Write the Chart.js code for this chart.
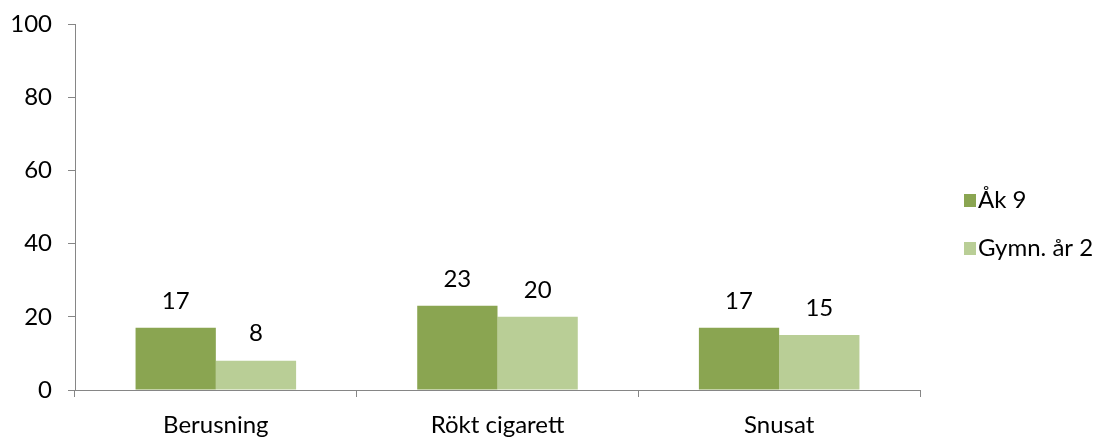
<!DOCTYPE html>
<html><head><meta charset="utf-8">
<script src="https://cdn.jsdelivr.net/npm/chart.js@4"></script>
<style>html,body{margin:0;padding:0;background:#fff}#wrap{width:1106px;height:437px}</style>
</head><body><div id="wrap"><canvas id="c" width="1106" height="437"></canvas></div>
<script>
const categories = ["Berusning", "Rökt cigarett", "Snusat"];
const seriesNames = ["Åk 9", "Gymn. år 2"];
const ak9 = [17, 23, 17];
const gymn2 = [8, 20, 15];
const yTicks = [0, 20, 40, 60, 80, 100];
const colors = ["#8AA551", "#B9CE96"];
const FONT = "Lato, 'Open Sans', sans-serif";
const FS = 24;

const labelPlugin = {
  id: 'vals',
  afterDatasetsDraw(chart) {
    const ctx = chart.ctx;
    ctx.save();
    ctx.font = FS + "px " + FONT;
    ctx.fillStyle = "#000";
    ctx.textAlign = "center";
    ctx.textBaseline = "middle";
    chart.data.datasets.forEach((ds, i) => {
      chart.getDatasetMeta(i).data.forEach((bar, j) => {
        ctx.fillText(String(ds.data[j]), bar.x, bar.y - 27);
      });
    });
    ctx.restore();
  }
};
const legendPlugin = {
  id: 'leg',
  afterDraw(chart) {
    const ctx = chart.ctx;
    ctx.save();
    ctx.font = FS + "px " + FONT;
    ctx.textBaseline = "middle";
    ctx.textAlign = "left";
    chart.data.datasets.forEach((ds, i) => {
      const cy = 200 + i * 48;
      ctx.fillStyle = ds.backgroundColor;
      ctx.fillRect(964, cy - 6, 12, 13);
      ctx.fillStyle = "#000";
      ctx.fillText(ds.label, 978, cy);
    });
    ctx.restore();
  }
};

new Chart(document.getElementById('c'), {
  type: 'bar',
  data: {
    labels: categories,
    datasets: [
      { label: seriesNames[0], data: ak9, backgroundColor: colors[0] },
      { label: seriesNames[1], data: gymn2, backgroundColor: colors[1] }
    ]
  },
  options: {
    responsive: false,
    animation: false,
    layout: { padding: { top: 24, right: 186, left: 0, bottom: 0 } },
    datasets: { bar: { categoryPercentage: 0.57, barPercentage: 1.0 } },
    plugins: { legend: { display: false }, tooltip: { enabled: false } },
    scales: {
      x: {
        grid: { display: true, drawOnChartArea: false, offset: true, tickLength: 7, color: "#868686" },
        border: { color: "#868686", width: 1 },
        ticks: { font: { size: FS, family: FONT }, color: "#000", padding: 14 },
        afterFit(s) { s.height = 47; s.paddingLeft = 0; s.paddingRight = 0; }
      },
      y: {
        min: 0, max: 100,
        afterBuildTicks(s) { s.ticks = yTicks.map(v => ({ value: v })); },
        grid: { display: true, drawOnChartArea: false, tickLength: 7, color: "#868686" },
        border: { color: "#868686", width: 1 },
        ticks: { font: { size: FS, family: FONT }, color: "#000", padding: 16 },
        afterFit(s) { s.width = 75; s.paddingTop = 0; s.paddingBottom = 0; }
      }
    }
  },
  plugins: [labelPlugin, legendPlugin]
});
</script></body></html>
